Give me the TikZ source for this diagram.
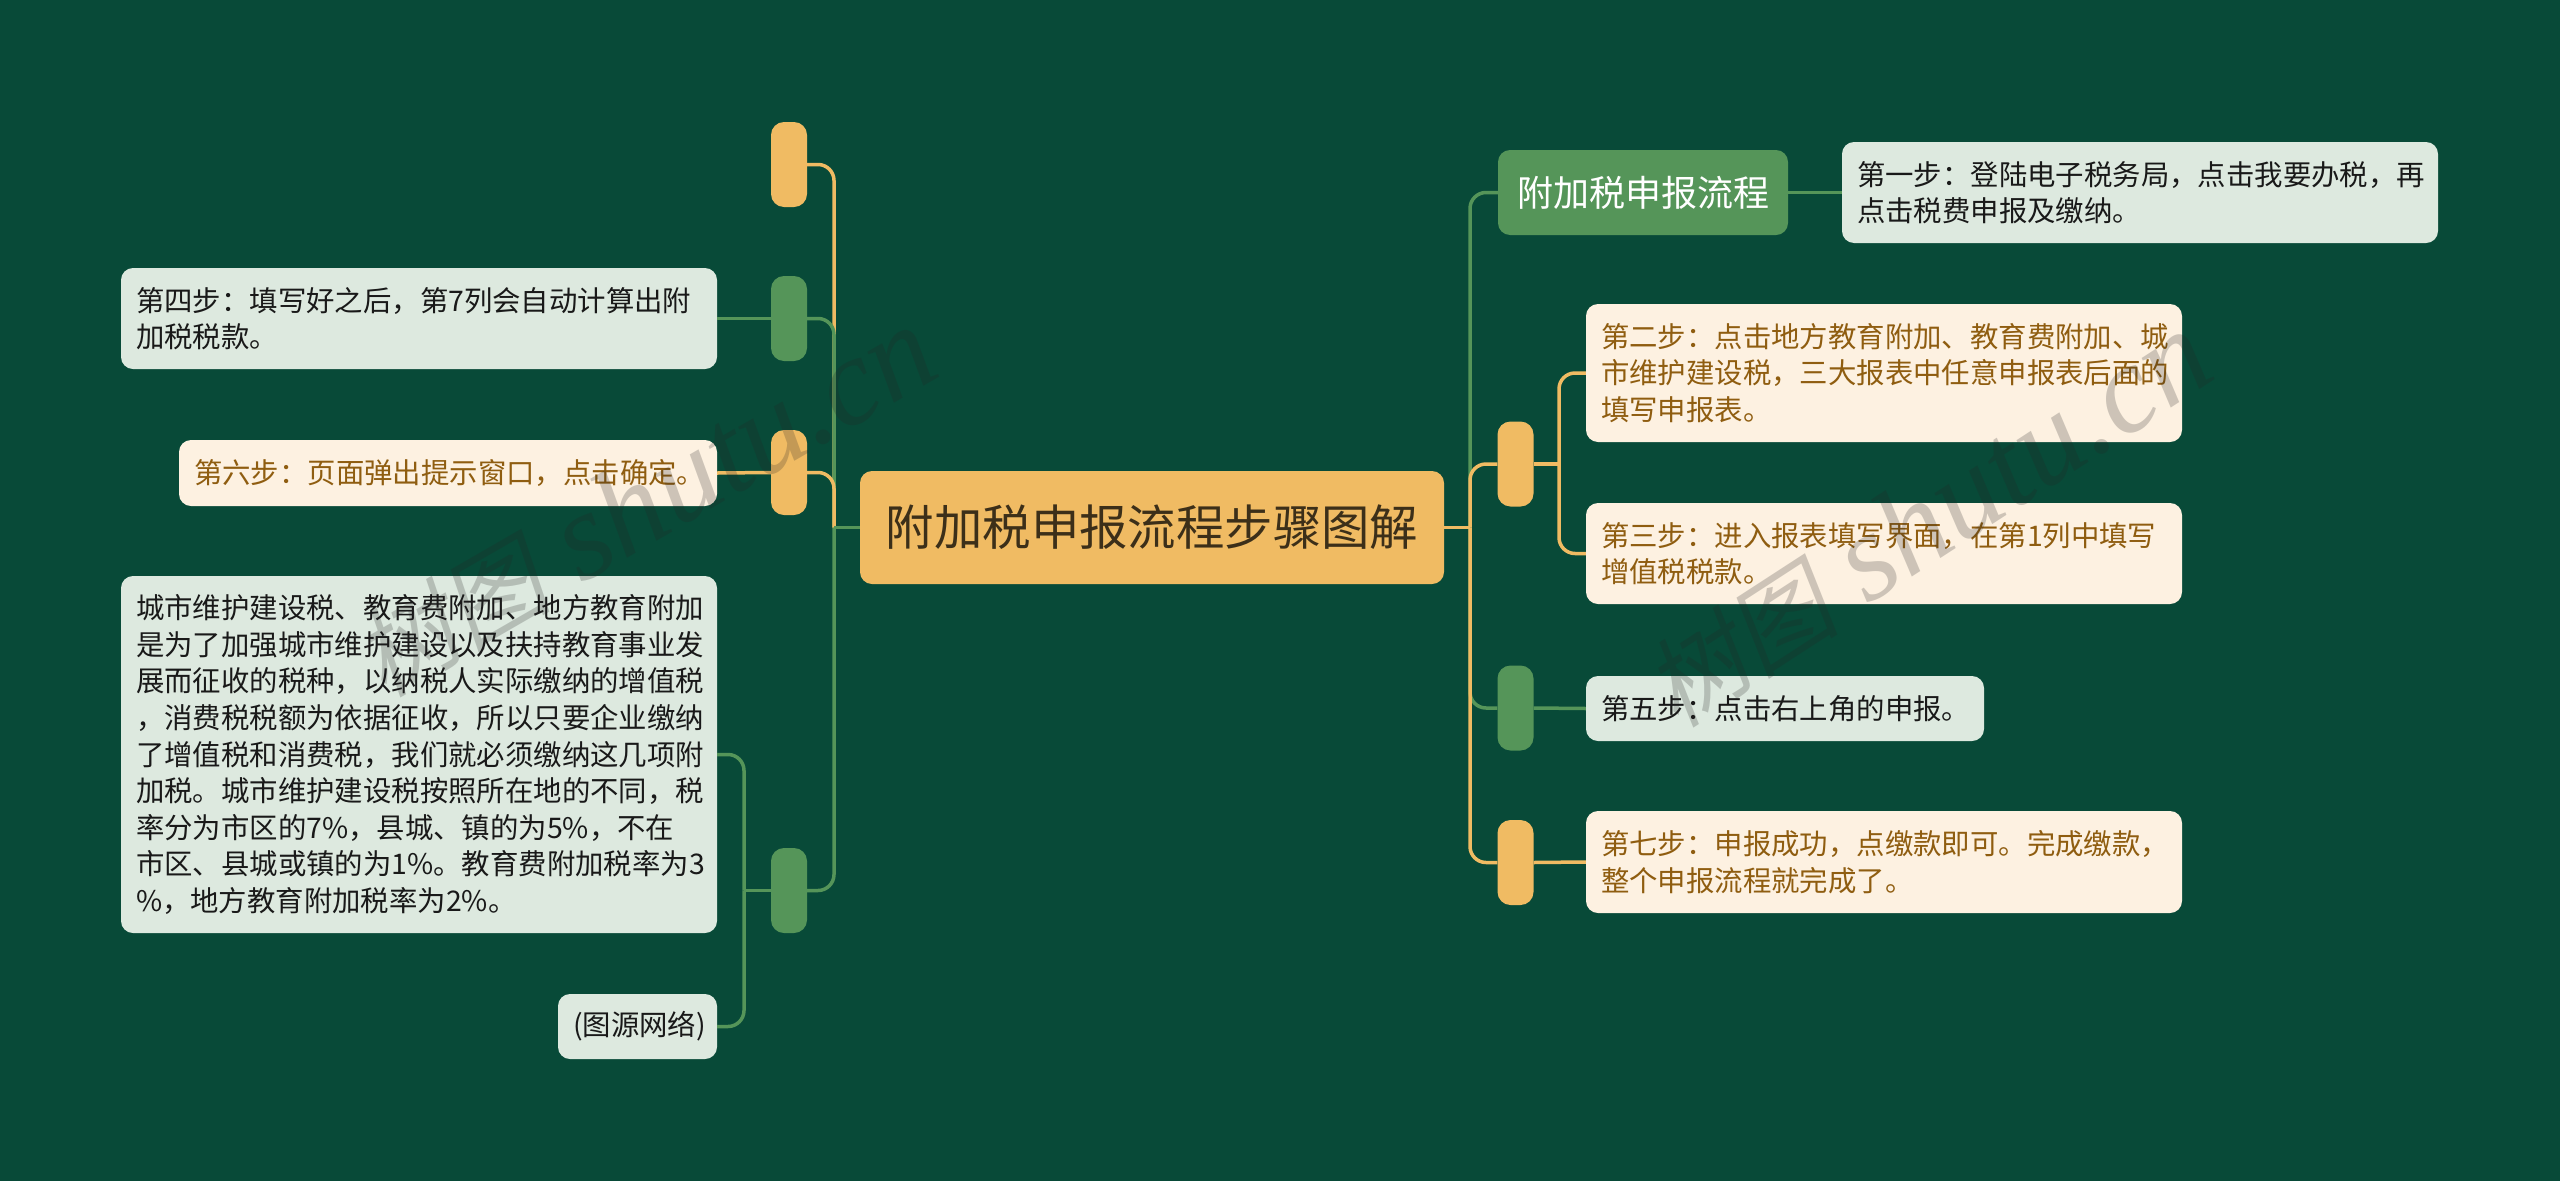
\documentclass[tikz,border=0pt]{standalone}
\usepackage{fontspec}
\setmainfont{Noto Sans CJK SC}
\newfontfamily\markfont{Liberation Serif}
\newfontfamily\markcjk[FakeSlant=0.2]{Noto Sans CJK SC}
\newcommand{\dou}{\symbol{"FF0C}}
\newcommand{\mao}{\symbol{"FF1A}}
\usetikzlibrary{positioning}
\definecolor{pagegreen}{HTML}{084A38}
\definecolor{hubyellow}{HTML}{F0BB63}
\definecolor{hubgreen}{HTML}{559559}
\definecolor{palegreen}{HTML}{DDE9DF}
\definecolor{palecream}{HTML}{FDF1E1}
\definecolor{brownink}{HTML}{8F5D10}
\tikzset{
    rootbox/.style={fill=hubyellow,text=black!75!hubyellow,rounded corners=12pt,minimum width=584pt,minimum height=113pt,inner sep=0pt,font=\fontsize{48.4}{56}\selectfont},
    titlebox/.style={fill=hubgreen,text=white,rounded corners=12pt,minimum width=290pt,minimum height=85pt,inner sep=0pt,font=\fontsize{36}{44}\selectfont},
    hubbox/.style={fill=#1,rounded corners=13pt,minimum width=36pt,minimum height=85pt,inner sep=0pt},
    note/.style={rounded corners=12pt,inner xsep=15pt,inner ysep=0pt,align=left,text width=#1,font=\fontsize{28.4}{36.6}\selectfont},
    greennote/.style={note=#1,fill=palegreen,text=black!90},
    creamnote/.style={note=#1,fill=palecream,text=brownink},
    yellowline/.style={draw=hubyellow,line width=3.5pt,rounded corners=16pt},
    greenline/.style={draw=hubgreen,line width=3.5pt,rounded corners=16pt},
    stamp/.style={text=black!86,text opacity=.22,inner sep=0pt,font=\fontsize{125}{130}\markfont\itshape}
}
\begin{document}
\begin{tikzpicture}[x=1pt,y=-1pt]
    \fill[pagegreen] (0,0) rectangle (2560,1181);
    \node[rootbox] (root) at (1152,527.5) {附加税申报流程步骤图解};

    \node[hubbox=hubyellow] (hubtop) at (789,164.5) {};
    \node[hubbox=hubgreen] (hubfour) at (789,318.5) {};
    \node[hubbox=hubyellow] (hubsix) at (789,472.5) {};
    \node[hubbox=hubgreen] (hubtax) at (789,890.5) {};
    \node[greennote=566pt,minimum height=101pt] (stepfour) at (419,318.5) {第四步\mao 填写好之后\dou 第7列会自动计算出附\\加税税款。};
    \node[creamnote=508pt,minimum height=66pt] (stepsix) at (448,473) {第六步\mao 页面弹出提示窗口\dou 点击确定。};
    \node[greennote=566pt,minimum height=357pt] (taxnote) at (419,754.5) {城市维护建设税、教育费附加、地方教育附加\\是为了加强城市维护建设以及扶持教育事业发\\展而征收的税种\dou 以纳税人实际缴纳的增值税\\\dou 消费税税额为依据征收\dou 所以只要企业缴纳\\了增值税和消费税\dou 我们就必须缴纳这几项附\\加税。城市维护建设税按照所在地的不同\dou 税\\率分为市区的7\%\dou 县城、镇的为5\%\dou 不在\\市区、县城或镇的为1\%。教育费附加税率为3\\\%\dou 地方教育附加税率为2\%。};
    \node[greennote=129pt,minimum height=65pt] (source) at (637.5,1026.5) {(图源网络)};

    \node[titlebox] (flow) at (1643,192.5) {附加税申报流程};
    \node[hubbox=hubyellow] (hubtwo) at (1515.5,464) {};
    \node[hubbox=hubgreen] (hubfive) at (1515.5,708) {};
    \node[hubbox=hubyellow] (hubseven) at (1515.5,862.5) {};
    \node[greennote=566pt,minimum height=101pt] (stepone) at (2140,192.5) {第一步\mao 登陆电子税务局\dou 点击我要办税\dou 再\\点击税费申报及缴纳。};
    \node[creamnote=566pt,minimum height=138pt] (steptwo) at (1884,373) {第二步\mao 点击地方教育附加、教育费附加、城\\市维护建设税\dou 三大报表中任意申报表后面的\\填写申报表。};
    \node[creamnote=566pt,minimum height=101pt] (stepthree) at (1884,553.5) {第三步\mao 进入报表填写界面\dou 在第1列中填写\\增值税税款。};
    \node[greennote=368pt,minimum height=65pt] (stepfive) at (1785,708.5) {第五步\mao 点击右上角的申报。};
    \node[creamnote=566pt,minimum height=102pt] (stepseven) at (1884,862) {第七步\mao 申报成功\dou 点缴款即可。完成缴款\dou \\整个申报流程就完成了。};

    \coordinate (spineleft) at (834,527.5);
    \coordinate (spineright) at (1470,527.5);
    \coordinate (forktax) at (744,890.5);
    \coordinate (forktwo) at (1559,464);

    \draw[yellowline] (spineleft) |- (hubtop.east);
    \draw[greenline] (spineleft) |- (hubfour.east);
    \draw[yellowline] (spineleft) |- (hubsix.east);
    \draw[greenline] (spineleft) |- (hubtax.east);
    \draw[greenline] (root.west) -- (spineleft);
    \draw[greenline] (stepfour.east) -- (hubfour.west);
    \draw[yellowline] (stepsix.east) -- (hubsix.west);
    \draw[greenline] (hubtax.west) -- (forktax);
    \draw[greenline] (forktax) |- (taxnote.east);
    \draw[greenline] (forktax) |- (source.east);

    \draw[greenline] (spineright) |- (flow.west);
    \draw[greenline] (spineright) |- (hubfive.west);
    \draw[yellowline] (spineright) |- (hubtwo.west);
    \draw[yellowline] (spineright) |- (hubseven.west);
    \draw[yellowline] (root.east) -- (spineright);
    \draw[greenline] (flow.east) -- (stepone.west);
    \draw[yellowline] (hubtwo.east) -- (forktwo);
    \draw[yellowline] (forktwo) |- (steptwo.west);
    \draw[yellowline] (forktwo) |- (stepthree.west);
    \draw[greenline] (hubfive.east) -- (stepfive.west);
    \draw[yellowline] (hubseven.east) -- (stepseven.west);

    \node[stamp,rotate=30] (stampleft) at (645,502) {{\markcjk\fontsize{98}{130}\selectfont 树图} shutu.cn};
    \node[stamp,rotate=33] (stampright) at (1927,520) {{\markcjk\fontsize{98}{130}\selectfont 树图} shutu.cn};
\end{tikzpicture}
\end{document}
